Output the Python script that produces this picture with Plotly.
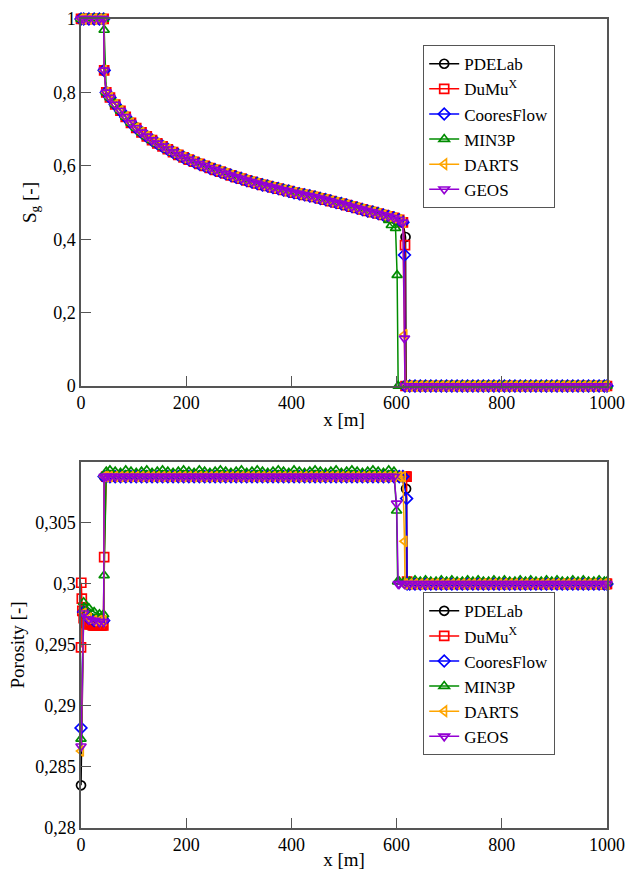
import plotly.graph_objects as go

# ---------------------------------------------------------------------------
# Series styling
# ---------------------------------------------------------------------------
NAMES = ["PDELab", "DuMu<sup>X</sup>", "CooresFlow", "MIN3P", "DARTS", "GEOS"]
COLORS = ["#000000", "#ff0000", "#0000ff", "#008c00", "#ffa500", "#9400d3"]
SYMBOLS = ["circle-open", "square-open", "diamond-open",
           "triangle-up-open", "triangle-left-open", "triangle-down-open"]
FONT = "Liberation Serif, Times New Roman, Times, serif"

# ---------------------------------------------------------------------------
# Shared x positions [m]
# ---------------------------------------------------------------------------
X_HEAD = [0, 5, 15, 25, 35, 43, 44]
X_BULK = [48, 55, 65, 75, 85, 95, 105, 115, 125, 135, 145, 155, 165, 175,
          185, 195, 205, 215, 225, 235, 245, 255, 265, 275, 285, 295, 305,
          315, 325, 335, 345, 355, 365, 375, 385, 395, 405, 415, 425, 435,
          445, 455, 465, 475, 485, 495, 505, 515, 525, 535, 545, 555, 565,
          575, 585, 595]
X_TAIL = [625, 635, 645, 655, 665, 675, 685, 695, 705, 715, 725, 735, 745,
          755, 765, 775, 785, 795, 805, 815, 825, 835, 845, 855, 865, 875,
          885, 895, 905, 915, 925, 935, 945, 955, 965, 975, 985, 995, 1000]

# ---------------------------------------------------------------------------
# Gas saturation Sg [-]
# ---------------------------------------------------------------------------
SG_HEAD = [1.0, 1.0, 1.0, 1.0, 1.0, 1.0, 0.86]
SG_HEAD_MIN3P = [1.0, 1.0, 1.0, 1.0, 1.0, 1.0, 0.97]
SG_BULK = [0.800, 0.786, 0.767, 0.750, 0.733, 0.717, 0.703, 0.691, 0.680,
           0.670, 0.661, 0.653, 0.645, 0.637, 0.630, 0.623, 0.617, 0.611,
           0.605, 0.600, 0.594, 0.589, 0.584, 0.579, 0.574, 0.569, 0.565,
           0.560, 0.556, 0.552, 0.548, 0.545, 0.541, 0.538, 0.534, 0.531,
           0.527, 0.524, 0.521, 0.518, 0.515, 0.511, 0.508, 0.504, 0.500,
           0.497, 0.493, 0.489, 0.485, 0.481, 0.477, 0.474, 0.470, 0.466,
           0.462, 0.458]
SG_TAIL = [0.0, 0.0, 0.0, 0.0, 0.0, 0.0, 0.0, 0.0, 0.0, 0.0, 0.0, 0.0, 0.0,
           0.0, 0.0, 0.0, 0.0, 0.0, 0.0, 0.0, 0.0, 0.0, 0.0, 0.0, 0.0, 0.0,
           0.0, 0.0, 0.0, 0.0, 0.0, 0.0, 0.0, 0.0, 0.0, 0.0, 0.0, 0.0, 0.0]

# saturation front, per code
pdelab_x_front = [605, 612, 617, 618]
pdelab_sg_front = [0.453, 0.447, 0.406, 0.0]
dumux_x_front = [605, 612, 616, 617]
dumux_sg_front = [0.453, 0.446, 0.384, 0.0]
coores_x_front = [605, 612, 615, 616]
coores_sg_front = [0.453, 0.446, 0.357, 0.0]
min3p_x_front = [575, 585, 590, 598, 601, 603, 615]
min3p_sg_front = [0.464, 0.452, 0.438, 0.430, 0.302, 0.0, 0.0]
darts_x_front = [605, 612, 615, 616]
darts_sg_front = [0.453, 0.446, 0.140, 0.0]
geos_x_front = [605, 612, 615, 616]
geos_sg_front = [0.453, 0.446, 0.130, 0.0]

# ---------------------------------------------------------------------------
# Porosity [-]
# ---------------------------------------------------------------------------
pdelab_phi_head = [0.2835, 0.2978, 0.2973, 0.2971, 0.2970, 0.2970, 0.3088]
coores_phi_head = [0.2882, 0.2977, 0.2972, 0.2970, 0.2970, 0.2970, 0.3088]
min3p_phi_head = [0.2873, 0.2985, 0.2980, 0.2977, 0.2975, 0.2975, 0.3007]
darts_phi_head = [0.2863, 0.2976, 0.2972, 0.2970, 0.2970, 0.2970, 0.3088]
geos_phi_head = [0.2867, 0.2976, 0.2971, 0.2970, 0.2969, 0.2969, 0.3088]
dumux_x_head = [0, 0.5, 1.5, 2.5, 5, 7.5, 10, 12.5, 15, 17.5, 20, 22.5, 25,
                27.5, 30, 32.5, 35, 37.5, 40, 42.5, 44]
dumux_phi_head = [0.2948, 0.3001, 0.2988, 0.2978, 0.2972, 0.2969, 0.2968,
                  0.2967, 0.2967, 0.2967, 0.2967, 0.2966, 0.2966, 0.2966,
                  0.2966, 0.2966, 0.2966, 0.2966, 0.2966, 0.2966, 0.3022]

PHI_BULK = [0.3088, 0.3088, 0.3088, 0.3088, 0.3088, 0.3088, 0.3088, 0.3088,
            0.3088, 0.3088, 0.3088, 0.3088, 0.3088, 0.3088, 0.3088, 0.3088,
            0.3088, 0.3088, 0.3088, 0.3088, 0.3088, 0.3088, 0.3088, 0.3088,
            0.3088, 0.3088, 0.3088, 0.3088, 0.3088, 0.3088, 0.3088, 0.3088,
            0.3088, 0.3088, 0.3088, 0.3088, 0.3088, 0.3088, 0.3088, 0.3088,
            0.3088, 0.3088, 0.3088, 0.3088, 0.3088, 0.3088, 0.3088, 0.3088,
            0.3088, 0.3088, 0.3088, 0.3088, 0.3088, 0.3088, 0.3088, 0.3088]
min3p_phi_bulk = [0.3092, 0.3093, 0.3092, 0.3091, 0.3093, 0.3092, 0.3091,
                  0.3092, 0.3093, 0.3091, 0.3092, 0.3093, 0.3092, 0.3091,
                  0.3092, 0.3093, 0.3092, 0.3091, 0.3093, 0.3092, 0.3091,
                  0.3092, 0.3093, 0.3092, 0.3091, 0.3092, 0.3093, 0.3091,
                  0.3092, 0.3093, 0.3092, 0.3091, 0.3092, 0.3093, 0.3092,
                  0.3091, 0.3093, 0.3092, 0.3091, 0.3092, 0.3093, 0.3092,
                  0.3091, 0.3092, 0.3093, 0.3091, 0.3092, 0.3093, 0.3092,
                  0.3091, 0.3092, 0.3093, 0.3092, 0.3091, 0.3093, 0.3092]

# mineral front, per code
pdelab_x_mfront = [605, 612, 618, 619]
pdelab_phi_mfront = [0.3088, 0.3088, 0.3078, 0.3000]
dumux_x_mfront = [605, 612, 615, 617, 619, 620]
dumux_phi_mfront = [0.3088, 0.3088, 0.3088, 0.3088, 0.3088, 0.3002]
coores_x_mfront = [605, 612, 619, 620]
coores_phi_mfront = [0.3088, 0.3088, 0.3070, 0.3000]
min3p_x_mfront = [600, 602, 605, 615]
min3p_phi_mfront = [0.3060, 0.3002, 0.3002, 0.3002]
darts_x_mfront = [605, 612, 615, 616]
darts_phi_mfront = [0.3088, 0.3088, 0.3035, 0.3000]
geos_x_mfront = [600, 603, 605, 615]
geos_phi_mfront = [0.3066, 0.3000, 0.3000, 0.3000]

PHI_TAIL = [0.3, 0.3, 0.3, 0.3, 0.3, 0.3, 0.3, 0.3, 0.3, 0.3, 0.3, 0.3, 0.3,
            0.3, 0.3, 0.3, 0.3, 0.3, 0.3, 0.3, 0.3, 0.3, 0.3, 0.3, 0.3, 0.3,
            0.3, 0.3, 0.3, 0.3, 0.3, 0.3, 0.3, 0.3, 0.3, 0.3, 0.3, 0.3, 0.3]
min3p_phi_tail = [0.3002, 0.3003, 0.3002, 0.3003, 0.3002, 0.3002, 0.3003,
                  0.3002, 0.3003, 0.3002, 0.3002, 0.3003, 0.3002, 0.3003,
                  0.3002, 0.3002, 0.3003, 0.3002, 0.3003, 0.3002, 0.3002,
                  0.3003, 0.3002, 0.3003, 0.3002, 0.3002, 0.3003, 0.3002,
                  0.3003, 0.3002, 0.3002, 0.3003, 0.3002, 0.3003, 0.3002,
                  0.3002, 0.3003, 0.3002, 0.3002]
dumux_x_tail = [625, 635, 645, 655, 665, 675, 685, 695, 705, 715, 725, 735,
                745, 755, 765, 775, 785, 795, 805, 815, 825, 835, 845, 855,
                865, 875, 885, 895, 905, 915, 925, 935, 945, 955, 965, 975,
                985, 992, 995, 997, 999, 1000]
dumux_phi_tail = [0.3, 0.3, 0.3, 0.3, 0.3, 0.3, 0.3, 0.3, 0.3, 0.3, 0.3, 0.3,
                  0.3, 0.3, 0.3, 0.3, 0.3, 0.3, 0.3, 0.3, 0.3, 0.3, 0.3, 0.3,
                  0.3, 0.3, 0.3, 0.3, 0.3, 0.3, 0.3, 0.3, 0.3, 0.3, 0.3, 0.3,
                  0.3, 0.3, 0.3, 0.3, 0.3, 0.3]

# ---------------------------------------------------------------------------
# Assemble profiles
# ---------------------------------------------------------------------------
sg_x = [
    X_HEAD + X_BULK + pdelab_x_front + X_TAIL,
    X_HEAD + X_BULK + dumux_x_front + X_TAIL,
    X_HEAD + X_BULK + coores_x_front + X_TAIL,
    X_HEAD + X_BULK[:53] + min3p_x_front + X_TAIL,
    X_HEAD + X_BULK + darts_x_front + X_TAIL,
    X_HEAD + X_BULK + geos_x_front + X_TAIL,
]
sg_y = [
    SG_HEAD + SG_BULK + pdelab_sg_front + SG_TAIL,
    SG_HEAD + SG_BULK + dumux_sg_front + SG_TAIL,
    SG_HEAD + SG_BULK + coores_sg_front + SG_TAIL,
    SG_HEAD_MIN3P + SG_BULK[:53] + min3p_sg_front + SG_TAIL,
    SG_HEAD + SG_BULK + darts_sg_front + SG_TAIL,
    SG_HEAD + SG_BULK + geos_sg_front + SG_TAIL,
]
phi_x = [
    X_HEAD + X_BULK + pdelab_x_mfront + X_TAIL,
    dumux_x_head + X_BULK + dumux_x_mfront + dumux_x_tail,
    X_HEAD + X_BULK + coores_x_mfront + X_TAIL,
    X_HEAD + X_BULK + min3p_x_mfront + X_TAIL,
    X_HEAD + X_BULK + darts_x_mfront + X_TAIL,
    X_HEAD + X_BULK + geos_x_mfront + X_TAIL,
]
phi_y = [
    pdelab_phi_head + PHI_BULK + pdelab_phi_mfront + PHI_TAIL,
    dumux_phi_head + PHI_BULK + dumux_phi_mfront + dumux_phi_tail,
    coores_phi_head + PHI_BULK + coores_phi_mfront + PHI_TAIL,
    min3p_phi_head + min3p_phi_bulk + min3p_phi_mfront + min3p_phi_tail,
    darts_phi_head + PHI_BULK + darts_phi_mfront + PHI_TAIL,
    geos_phi_head + PHI_BULK + geos_phi_mfront + PHI_TAIL,
]

fig = go.Figure()


def add_series(xs, ys, xaxis, yaxis, legend):
    for name, color, symbol, x, y in zip(NAMES, COLORS, SYMBOLS, xs, ys):
        fig.add_trace(go.Scatter(
            x=x, y=y, name=name, mode="lines+markers",
            xaxis=xaxis, yaxis=yaxis, legend=legend,
            line=dict(color=color, width=1.5),
            marker=dict(symbol=symbol, size=9, color=color,
                        line=dict(color=color, width=1.7)),
            cliponaxis=False,
        ))


add_series(sg_x, sg_y, "x", "y", "legend")
add_series(phi_x, phi_y, "x2", "y2", "legend2")

tick_font = dict(family=FONT, size=18, color="black")
title_font = dict(family=FONT, size=19, color="black")
axis_style = dict(showline=True, mirror=True, linecolor="#555", linewidth=1.5,
                  ticks="inside", ticklen=10, tickwidth=1.2, tickcolor="#555",
                  showgrid=False, zeroline=False, automargin=False,
                  tickfont=tick_font)

X_TICKS = [0, 200, 400, 600, 800, 1000]
SG_TICKS = [0, 0.2, 0.4, 0.6, 0.8, 1.0]
SG_TICKTEXT = ["0", "0,2", "0,4", "0,6", "0,8", "1"]
PHI_TICKS = [0.28, 0.285, 0.29, 0.295, 0.3, 0.305]
PHI_TICKTEXT = ["0,28", "0,285", "0,29", "0,295", "0,3", "0,305"]

legend_style = dict(font=dict(family=FONT, size=17, color="black"),
                    bgcolor="white", bordercolor="#555", borderwidth=1.2,
                    xanchor="left", yanchor="top", tracegroupgap=0,
                    itemwidth=30)

fig.update_layout(
    width=629, height=870, autosize=False,
    margin=dict(l=0, r=0, t=0, b=0, pad=0, autoexpand=False),
    paper_bgcolor="white", plot_bgcolor="white",
    font=dict(family=FONT, color="black"),
    xaxis=dict(domain=[0.1288, 0.965], range=[0, 1000], anchor="y",
               tickvals=X_TICKS, title=dict(text="x [m]", font=title_font, standoff=0),
               **axis_style),
    yaxis=dict(domain=[0.5563, 0.9782], range=[0, 1], anchor="x",
               tickvals=SG_TICKS, ticktext=SG_TICKTEXT,
               title=dict(text="S<sub>g</sub> [-]", font=title_font, standoff=12),
               **axis_style),
    xaxis2=dict(domain=[0.1288, 0.965], range=[0, 1000], anchor="y2",
                tickvals=X_TICKS, title=dict(text="x [m]", font=title_font, standoff=2),
                **axis_style),
    yaxis2=dict(domain=[0.0483, 0.469], range=[0.28, 0.31], anchor="x2",
                tickvals=PHI_TICKS, ticktext=PHI_TICKTEXT,
                title=dict(text="Porosity [-]", font=title_font, standoff=6),
                **axis_style),
    legend=dict(x=0.6725, y=0.9483, **legend_style),
    legend2=dict(x=0.6725, y=0.3195, **legend_style),
)

# fixed-size page: no body margin, no responsive resizing
fig.write_html("out.html", config={"responsive": False},
               post_script="document.body.style.margin='0';"
                           "document.body.style.overflow='hidden';")
